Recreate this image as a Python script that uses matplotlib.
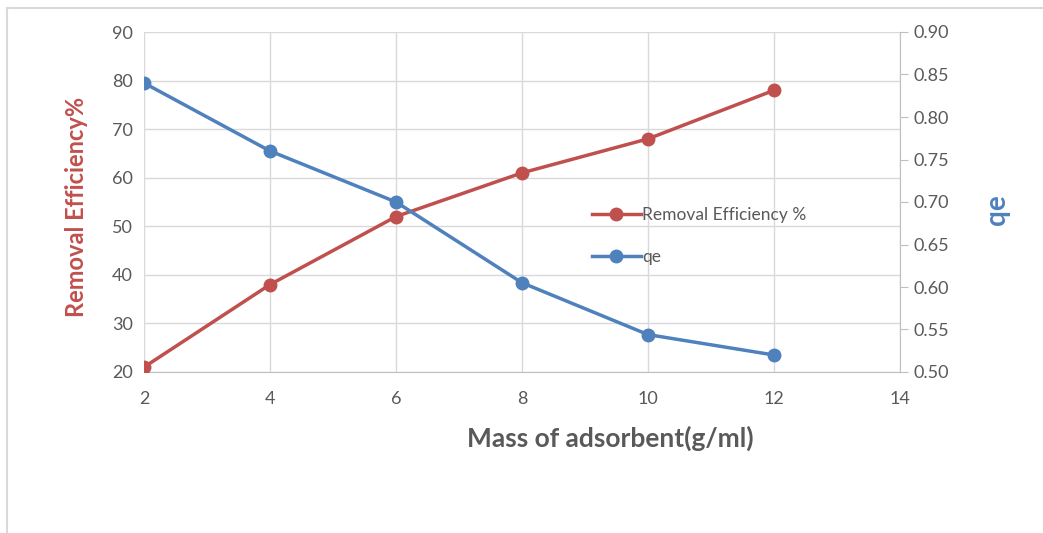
import matplotlib.pyplot as plt
from matplotlib.lines import Line2D

plt.rcParams['font.family'] = ['Lato', 'DejaVu Sans']

# adsorbent dose series
mass = [2, 4, 6, 8, 10, 12]
removal = [21, 38, 52, 61, 68, 78]
qe = [0.84, 0.76, 0.70, 0.605, 0.544, 0.52]

red = '#C0504D'
blue = '#4F81BD'
grey_text = '#595959'
grid_col = '#D9D9D9'

fig = plt.figure(figsize=(10.43, 5.33), dpi=100)
W, H = 1043, 533

# light frame round the chart area (top and left edges only)
fig.add_artist(Line2D([7 / W, 7 / W], [0, 1 - 8 / H], color='#D9D9D9', lw=1.5))
fig.add_artist(Line2D([7 / W, 1], [1 - 8 / H, 1 - 8 / H], color='#D9D9D9', lw=1.5))

ax = fig.add_axes([144 / W, 1 - 372 / H, (900 - 144) / W, (372 - 32) / H])
ax2 = ax.twinx()

ax.plot(mass, removal, color=red, lw=2.5, marker='o', ms=9,
        label='Removal Efficiency %', zorder=3)
ax2.plot(mass, qe, color=blue, lw=2.5, marker='o', ms=9, label='qe', zorder=3)

ax.set_xlim(2, 14)
ax.set_xticks(range(2, 15, 2))
ax.set_ylim(20, 90)
ax.set_yticks(range(20, 91, 10))
ax2.set_ylim(0.5, 0.9)
ax2.set_yticks([0.5 + 0.05 * i for i in range(9)])
ax2.set_yticklabels(['%.2f' % (0.5 + 0.05 * i) for i in range(9)])

ax.grid(True, color=grid_col, lw=1)
ax.set_axisbelow(True)
for a in (ax, ax2):
    for s in a.spines.values():
        s.set_visible(False)
ax2.spines['right'].set_visible(True)
ax2.spines['right'].set_color('#BFBFBF')
ax.spines['bottom'].set_visible(True)
ax.spines['bottom'].set_color('#BFBFBF')

ax.tick_params(axis='x', length=0, pad=14, labelsize=13, labelcolor=grey_text)
ax.tick_params(axis='y', length=0, pad=8, labelsize=13, labelcolor=grey_text)
ax2.tick_params(axis='y', length=6, color='#BFBFBF', pad=4, labelsize=13,
                labelcolor=grey_text)

ax.set_xlabel('Mass of adsorbent(g/ml)', fontsize=19, fontweight='bold',
              color=grey_text)
ax.xaxis.set_label_coords((610 - 144) / 756, -(438 - 372) / 340)
ax.xaxis.label.set_va('center')
ax.set_ylabel('Removal Efficiency%', fontsize=17, fontweight='bold', color=red)
ax.yaxis.set_label_coords(-(144 - 77) / 756, (372 - 207) / 340)
ax.yaxis.label.set_va('center')
ax2.set_ylabel('qe', fontsize=20, fontweight='bold', color=blue, rotation=90)
ax2.yaxis.set_label_coords(1 + (997 - 900) / 756, (372 - 210) / 340)
ax2.yaxis.label.set_va('center')

handles = ax.get_lines()[:1] + ax2.get_lines()[:1]
leg = ax.legend(handles, [h.get_label() for h in handles], loc='upper left',
                bbox_to_anchor=(0.572, 0.53), frameon=False, fontsize=12.5,
                handlelength=2.8, handletextpad=0.1, labelspacing=1.45)
for t in leg.get_texts():
    t.set_color(grey_text)

fig.savefig('out.png', dpi=100)
